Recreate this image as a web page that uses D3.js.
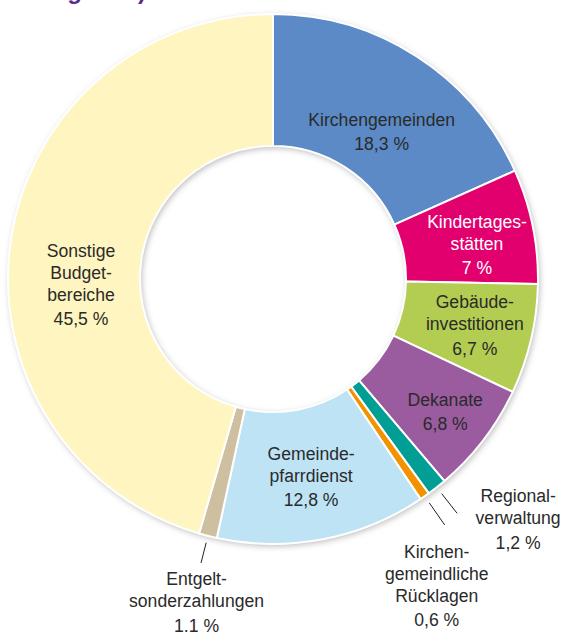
<!DOCTYPE html>
<html>
<head>
<meta charset="utf-8">
<script src="https://cdn.jsdelivr.net/npm/d3@7"></script>
<style>
  html, body { margin: 0; padding: 0; background: #fff; }
  svg { display: block; }
  text { font-family: "Liberation Sans", Arial, sans-serif; }
</style>
</head>
<body>
<svg id="chart" width="565" height="632"></svg>
<script>
// ---- data ----
const categories = [
  "Kirchengemeinden", "Kindertagesstätten", "Gebäudeinvestitionen", "Dekanate",
  "Regionalverwaltung", "Kirchengemeindliche Rücklagen", "Gemeindepfarrdienst",
  "Entgeltsonderzahlungen", "Sonstige Budgetbereiche"
];
const values = [18.3, 7, 6.7, 6.8, 1.2, 0.6, 12.8, 1.1, 45.5];
const labelLines = [
  ["Kirchengemeinden"],
  ["Kindertages-", "stätten"],
  ["Gebäude-", "investitionen"],
  ["Dekanate"],
  ["Regional-", "verwaltung"],
  ["Kirchen-", "gemeindliche", "Rücklagen"],
  ["Gemeinde-", "pfarrdienst"],
  ["Entgelt-", "sonderzahlungen"],
  ["Sonstige", "Budget-", "bereiche"]
];
const valueTexts = ["18,3 %", "7 %", "6,7 %", "6,8 %", "1,2 %", "0,6 %", "12,8 %", "1.1 %", "45,5 %"];
const colors = ["#5b8ac6", "#e2006e", "#b3cc52", "#9a5c9f", "#009e94", "#f39200", "#bde3f5", "#cdbf9f", "#fff5c0"];
const titleText = "Ausgaben)";

// ---- layout ----
const cx = 273, cy = 279;
const rOuter = 265, rInner = 133;
const rLabel = 198;
const labelLayout = [
  { mode: "in", dx: 1, dy: 13, fill: "#2a2a2a" },
  { mode: "in", dx: 10, dy: -11.5, fill: "#ffffff" },
  { mode: "in", dx: 9, dy: -16, fill: "#2a2a2a" },
  { mode: "in", dx: 15, dy: 6.5, fill: "#2a2a2a" },
  { mode: "out", r0: 273, r1: 298, dx: 61, dy: -11, fill: "#2a2a2a" },
  { mode: "out", r0: 273, r1: 300, dx: -8, dy: 33, fill: "#2a2a2a" },
  { mode: "in", dx: 1, dy: -13.5, fill: "#2a2a2a" },
  { mode: "out", r0: 272, r1: 293, dx: -4.5, dy: 22, fill: "#2a2a2a" },
  { mode: "in", dx: 4, dy: 5.6, fill: "#2a2a2a" }
];
const lineGap = 22, valueGap = 24.5, fontSize = 17.6;

const svg = d3.select("#chart");

// title (cropped at the top edge, as in the reference)
svg.append("text")
  .attr("x", 22).attr("y", -1)
  .attr("font-size", 24).attr("font-weight", "bold")
  .attr("fill", "#5c2d86")
  .text(titleText);

const defs = svg.append("defs");
const f = defs.append("filter").attr("id", "shadow")
  .attr("x", "-10%").attr("y", "-10%").attr("width", "120%").attr("height", "120%");
f.append("feDropShadow").attr("dx", 1.5).attr("dy", 2).attr("stdDeviation", 3)
  .attr("flood-color", "#000").attr("flood-opacity", 0.28);

const data = categories.map((c, i) => ({ name: c, value: values[i], i }));

const pie = d3.pie().value(d => d.value).sort(null);
const arcs = pie(data);
const arc = d3.arc().innerRadius(rInner).outerRadius(rOuter);
const labelArc = d3.arc().innerRadius(rLabel).outerRadius(rLabel);

const g = svg.append("g").attr("transform", `translate(${cx},${cy})`);

g.append("g").attr("filter", "url(#shadow)")
  .selectAll("path").data(arcs).join("path")
  .attr("d", arc)
  .attr("fill", d => colors[d.data.i]);

g.append("g").selectAll("path").data(arcs).join("path")
  .attr("d", arc)
  .attr("fill", d => colors[d.data.i])
  .attr("stroke", "#ffffff")
  .attr("stroke-width", 2)
  .attr("stroke-linejoin", "round");

arcs.forEach(a => {
  const i = a.data.i;
  const L = labelLayout[i];
  let x, y;
  if (L.mode === "in") {
    const [px, py] = labelArc.centroid(a);
    x = px + L.dx; y = py + L.dy;
  } else {
    const mid = (a.startAngle + a.endAngle) / 2;
    const x0 = L.r0 * Math.sin(mid), y0 = -L.r0 * Math.cos(mid);
    const x1 = L.r1 * Math.sin(mid), y1 = -L.r1 * Math.cos(mid);
    g.append("line")
      .attr("x1", x0).attr("y1", y0).attr("x2", x1).attr("y2", y1)
      .attr("stroke", "#222").attr("stroke-width", 1);
    x = x1 + L.dx; y = y1 + L.dy;
  }
  const t = g.append("text")
    .attr("text-anchor", "middle")
    .attr("font-size", fontSize)
    .attr("fill", L.fill);
  const lines = labelLines[i];
  lines.forEach((ln, k) => {
    t.append("tspan").attr("x", x).attr("y", y + k * lineGap).text(ln);
  });
  t.append("tspan").attr("x", x)
    .attr("y", y + (lines.length - 1) * lineGap + valueGap)
    .text(valueTexts[i]);
});
</script>
</body>
</html>
